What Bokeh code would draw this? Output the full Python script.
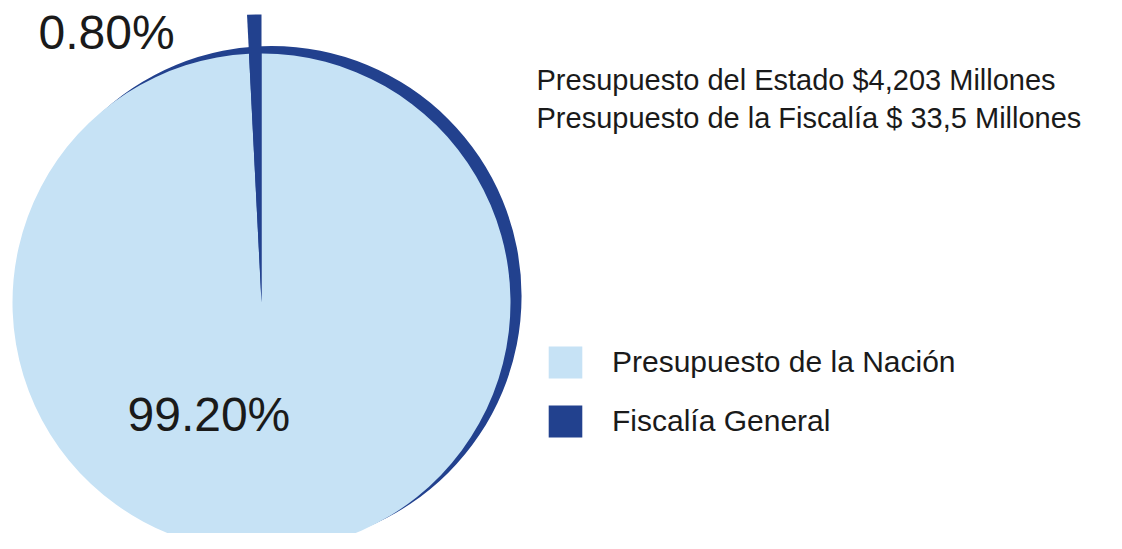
import numpy as np
from bokeh.plotting import figure
from bokeh.models import ColumnDataSource, Range1d, Legend, LegendItem
from bokeh.core.properties import value
from bokeh.embed import file_html
from bokeh.resources import INLINE

# ---- data ----
categories = ["Presupuesto de la Nación", "Fiscalía General"]
shares = [99.2, 0.8]
pct_labels = ["99.20%", "0.80%"]
colors = ["#c6e2f5", "#22418e"]
info_lines = ["Presupuesto del Estado $4,203 Millones",
              "Presupuesto de la Fiscalía $ 33,5 Millones"]

FONT = "Liberation Sans"
H = 549  # reference image height; data y = H - image y
W_FIG, H_FIG = 1106, 533

p = figure(width=W_FIG, height=H_FIG, output_backend="svg", toolbar_location=None,
           x_range=Range1d(0, W_FIG), y_range=Range1d(H - H_FIG, H),
           x_axis_location=None, y_axis_location=None, min_border=0,
           outline_line_color=None, background_fill_color="white",
           border_fill_color="white")
p.grid.visible = False


def ty(img_baseline, fs):
    # place alphabetic baseline at the given image row
    return H - (img_baseline - 0.34 * fs)


# pie geometry
cx, cy, r = 261, H - 302, 249
rim_d, rim_phi = 12, np.deg2rad(33)

fr = np.array(shares, dtype=float) / sum(shares) * 2 * np.pi
start0 = np.pi / 2
small_start = start0
small_end = start0 + fr[1]
big_start = small_end
big_end = start0 + 2 * np.pi
src = ColumnDataSource(dict(
    category=categories,
    start=[big_start, small_start],
    end=[big_end, small_end],
    color=colors,
    radius=[r, r + 39],
))

# darker rim (3-D edge effect)
p.circle(x=[cx + rim_d * np.cos(rim_phi)], y=[cy + rim_d * np.sin(rim_phi)],
         radius=r + 1, fill_color=colors[1], line_color=None)

wr = p.wedge(x=cx, y=cy, radius="radius", start_angle="start", end_angle="end",
             fill_color="color", line_color=None, source=src)

# percentage labels
p.text(x=[127, 38], y=[ty(430, 48), ty(48, 48)], text=pct_labels,
       text_font=value(FONT), text_font_size="48px", text_color="#1a1a1a",
       text_baseline="alphabetic", text_align="left")

# info lines
p.text(x=[536, 536], y=[ty(89, 29), ty(127, 29)], text=info_lines,
       text_font=value(FONT), text_font_size="29px", text_color="#1a1a1a",
       text_baseline="alphabetic", text_align="left")

legend = Legend(items=[LegendItem(label=categories[0], renderers=[wr], index=0),
                       LegendItem(label=categories[1], renderers=[wr], index=1)],
                location=(544, 92), orientation="vertical",
                glyph_width=42, glyph_height=40, label_standoff=26,
                label_text_font=FONT, label_text_font_size="30px",
                label_text_color="#1a1a1a", spacing=19, padding=0, margin=0,
                border_line_color=None, background_fill_alpha=0)
p.add_layout(legend, "center")

open("out.html", "w").write(file_html(p, INLINE))
